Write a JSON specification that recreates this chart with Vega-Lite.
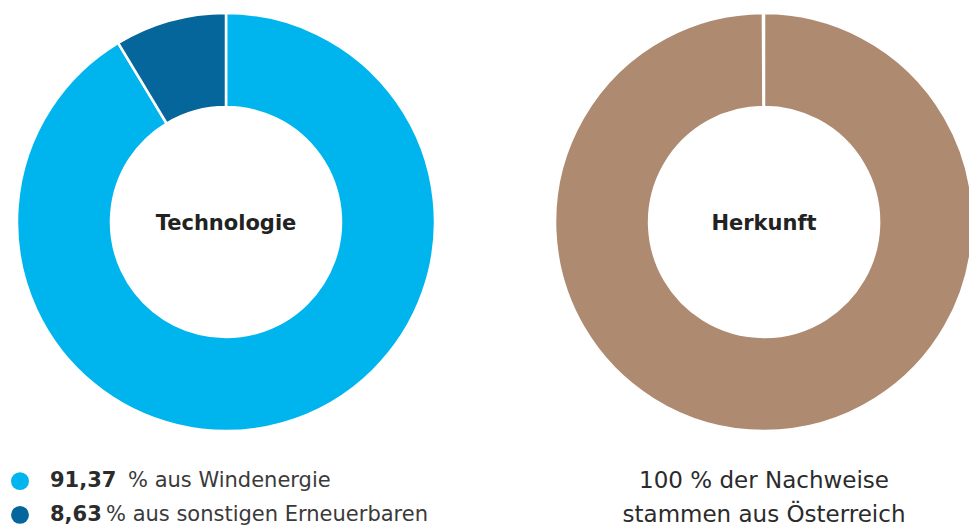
{
  "$schema": "https://vega.github.io/schema/vega-lite/v6.json",
  "padding": 0,
  "background": "white",
  "spacing": 98,
  "config": {"view": {"stroke": null}, "font": "DejaVu Sans"},
  "resolve": {"scale": {"theta": "independent"}},
  "datasets": {
    "tech": [
      {"kategorie": "Windenergie", "wert": 91.37, "zahl": "91,37", "text": "% aus Windenergie"},
      {"kategorie": "sonstige Erneuerbare", "wert": 8.63, "zahl": "8,63", "text": "% aus sonstigen Erneuerbaren"}
    ],
    "herkunft": [{"kategorie": "Österreich", "wert": 100}],
    "herkunftText": [{"zeile": "100 % der Nachweise"}, {"zeile": "stammen aus Österreich"}]
  },
  "hconcat": [
    {
      "spacing": 26,
      "vconcat": [
        {
          "width": 452,
          "height": 444,
          "layer": [
            {
              "data": {"name": "tech"},
              "mark": {"type": "arc", "outerRadius": 209, "innerRadius": 115, "stroke": "white", "strokeWidth": 2.5},
              "encoding": {
                "theta": {"field": "wert", "type": "quantitative", "stack": true},
                "color": {"field": "kategorie", "type": "nominal", "scale": {"domain": ["Windenergie", "sonstige Erneuerbare", "Österreich"], "range": ["#00b5ee", "#04669a", "#ae8a71"]}, "legend": null},
                "order": {"field": "wert", "sort": "descending"}
              }
            },
            {
              "data": {"values": [{"titel": "Technologie"}]},
              "mark": {"type": "text", "fontSize": 21, "fontWeight": "bold", "color": "#222222", "dy": 2},
              "encoding": {"text": {"field": "titel"}}
            }
          ]
        },
        {
          "width": 40,
          "height": 54,
          "data": {"name": "tech"},
          "encoding": {
            "y": {"field": "kategorie", "type": "nominal", "sort": null, "scale": {"type": "point", "padding": 0.3}, "axis": null}
          },
          "layer": [
            {
              "mark": {"type": "point", "shape": "circle", "filled": true, "size": 320, "opacity": 1},
              "encoding": {
                "color": {"field": "kategorie", "type": "nominal", "scale": {"domain": ["Windenergie", "sonstige Erneuerbare", "Österreich"], "range": ["#00b5ee", "#04669a", "#ae8a71"]}, "legend": null}
              }
            },
            {
              "mark": {"type": "text", "align": "left", "dx": 30, "fontSize": 21, "fontWeight": "bold", "color": "#2b2b2b"},
              "encoding": {"text": {"field": "zahl"}}
            },
            {
              "transform": [{"filter": "datum.wert > 50"}],
              "mark": {"type": "text", "align": "left", "dx": 108, "fontSize": 21, "color": "#3a3a3a"},
              "encoding": {"text": {"field": "text"}}
            },
            {
              "transform": [{"filter": "datum.wert < 50"}],
              "mark": {"type": "text", "align": "left", "dx": 86, "fontSize": 21, "color": "#3a3a3a"},
              "encoding": {"text": {"field": "text"}}
            }
          ]
        }
      ]
    },
    {
      "spacing": 26,
      "vconcat": [
        {
          "width": 404,
          "height": 444,
          "layer": [
            {
              "data": {"name": "herkunft"},
              "mark": {"type": "arc", "outerRadius": 209, "innerRadius": 115, "stroke": "white", "strokeWidth": 2.5},
              "encoding": {
                "theta": {"field": "wert", "type": "quantitative", "stack": true, "scale": {"range": [0, 6.278]}},
                "color": {"field": "kategorie", "type": "nominal", "scale": {"domain": ["Windenergie", "sonstige Erneuerbare", "Österreich"], "range": ["#00b5ee", "#04669a", "#ae8a71"]}, "legend": null}
              }
            },
            {
              "data": {"values": [{"titel": "Herkunft"}]},
              "mark": {"type": "text", "fontSize": 21, "fontWeight": "bold", "color": "#222222", "dy": 2},
              "encoding": {"text": {"field": "titel"}}
            }
          ]
        },
        {
          "width": 404,
          "height": 54,
          "data": {"name": "herkunftText"},
          "mark": {"type": "text", "fontSize": 23, "color": "#2b2b2b"},
          "encoding": {
            "y": {"field": "zeile", "type": "nominal", "sort": null, "scale": {"type": "point", "padding": 0.3}, "axis": null},
            "text": {"field": "zeile"}
          }
        }
      ]
    }
  ]
}
